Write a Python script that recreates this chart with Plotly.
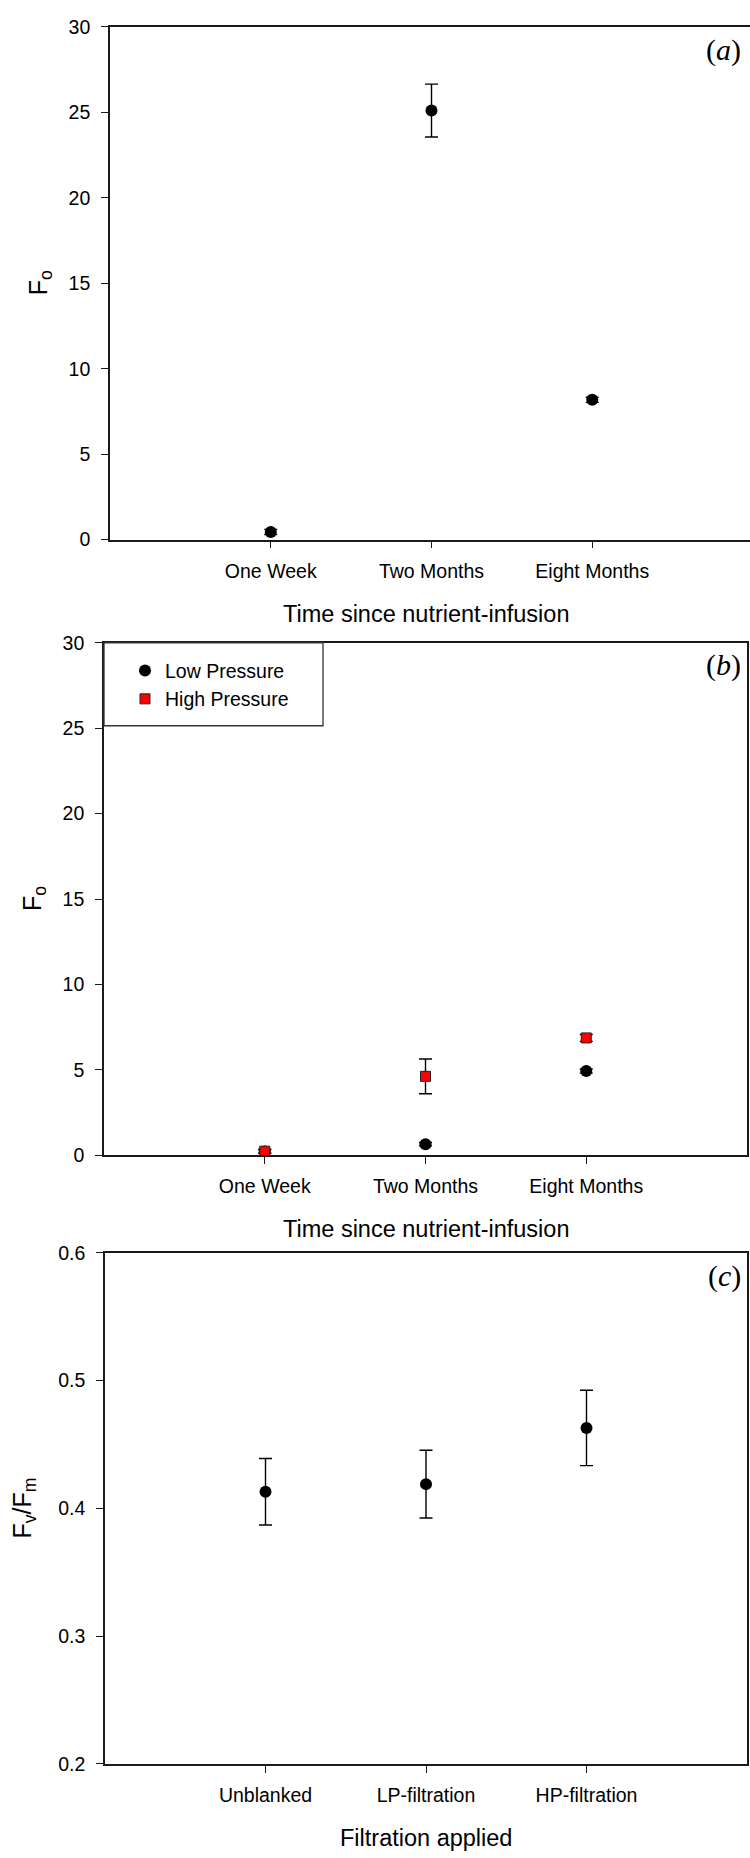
import plotly.graph_objects as go

# ---- data ----
time_labels = ["One Week", "Two Months", "Eight Months"]
filt_labels = ["Unblanked", "LP-filtration", "HP-filtration"]

fo_all = [0.45, 25.1, 8.18]
fo_all_err = [0.15, 1.55, 0.15]

fo_low = [0.22, 0.65, 4.93]
fo_low_err = [0.1, 0.1, 0.12]
fo_high = [0.24, 4.62, 6.87]
fo_high_err = [0.12, 1.02, 0.2]

fvfm = [0.413, 0.419, 0.463]
fvfm_err = [0.026, 0.0265, 0.0295]

W, H = 750, 1858
SANS = "Liberation Sans"
SERIF = "Liberation Serif"
LINE = "#1a1a1a"


def px_x(p):
    return p / W


def px_y(p):
    return 1 - p / H


def xpos(labels):
    return list(range(1, len(labels) + 1))


def err(vals):
    return dict(type="data", array=vals, visible=True, color="black",
                thickness=1.4, width=6.5)


circle = dict(symbol="circle", size=12, color="black",
              line=dict(color="black", width=0))
square = dict(symbol="square", size=10, color="#ff0000",
              line=dict(color="#222222", width=1))

fig = go.Figure()

# (a) overall Fo
fig.add_trace(go.Scatter(x=xpos(time_labels), y=fo_all, mode="markers",
                         marker=circle, error_y=err(fo_all_err),
                         xaxis="x", yaxis="y", showlegend=False))

# (b) Fo by filtration pressure
fig.add_trace(go.Scatter(x=xpos(time_labels), y=fo_low, mode="markers",
                         marker=circle, error_y=err(fo_low_err),
                         name="Low Pressure", xaxis="x2", yaxis="y2"))
fig.add_trace(go.Scatter(x=xpos(time_labels), y=fo_high, mode="markers",
                         marker=square, error_y=err(fo_high_err),
                         name="High Pressure", xaxis="x2", yaxis="y2"))

# (c) Fv/Fm by filtration
fig.add_trace(go.Scatter(x=xpos(filt_labels), y=fvfm, mode="markers",
                         marker=circle, error_y=err(fvfm_err),
                         xaxis="x3", yaxis="y3", showlegend=False))

tickfont = dict(family=SANS, size=19.5, color="black")


def xax(domain, rng, labels, anchor, mirror=True):
    return dict(domain=domain, range=rng, anchor=anchor,
                tickmode="array", tickvals=xpos(labels), ticktext=labels,
                ticks="outside", ticklen=7, tickwidth=1.3, tickcolor=LINE,
                showline=True, linecolor=LINE, linewidth=1.6, mirror=mirror,
                showgrid=False, zeroline=False, tickfont=tickfont,
                ticklabelstandoff=6, fixedrange=True)


def yax(domain, rng, dtick, anchor, mirror=True):
    return dict(domain=domain, range=rng, anchor=anchor, dtick=dtick,
                tick0=rng[0],
                ticks="outside", ticklen=7, tickwidth=1.3, tickcolor=LINE,
                showline=True, linecolor=LINE, linewidth=1.6, mirror=mirror,
                showgrid=False, zeroline=False, tickfont=tickfont,
                ticklabelstandoff=7, fixedrange=True)


# panel frames in pixels: left, right, top, bottom
A = (110, 750, 16, 535)
B = (104, 747, 639.3, 1158)
C = (105, 747, 1256.7, 1774)

a_right = (A[1] - A[0]) / ((747 - 104) / 4)

layout = dict(
    width=W, height=H,
    margin=dict(l=0, r=0, t=0, b=0),
    paper_bgcolor="white", plot_bgcolor="white",
    font=dict(family=SANS, color="black"),
    xaxis=xax([px_x(A[0]), px_x(A[1])], [0, a_right], time_labels, "y"),
    yaxis=yax([px_y(A[3]), px_y(A[2])], [0, 30], 5, "x", mirror=False),
    xaxis2=xax([px_x(B[0]), px_x(B[1])], [0, 4], time_labels, "y2"),
    yaxis2=yax([px_y(B[3]), px_y(B[2])], [0, 30], 5, "x2"),
    xaxis3=xax([px_x(C[0]), px_x(C[1])], [0, 4], filt_labels, "y3"),
    yaxis3=yax([px_y(C[3]), px_y(C[2])], [0.2, 0.6], 0.1, "x3"),
    legend=dict(x=px_x(125), y=px_y(648), xanchor="left", yanchor="top",
                bgcolor="rgba(0,0,0,0)", borderwidth=0,
                font=dict(family=SANS, size=19.5, color="black"),
                itemwidth=30, tracegroupgap=0),
    showlegend=True,
)
fig.update_layout(**layout)

# legend frame
fig.add_shape(type="rect", xref="paper", yref="paper",
              x0=px_x(B[0]), x1=px_x(323), y0=px_y(723.3), y1=px_y(B[2]),
              line=dict(color="#333333", width=1.3), fillcolor="rgba(0,0,0,0)")

annots = []
# panel letters
for letter, (l, r, t, b) in zip("abc", (A, B, C)):
    annots.append(dict(text="(<i>%s</i>)" % letter, xref="paper", yref="paper",
                       x=px_x(743), y=px_y(t + 23), xanchor="right",
                       yanchor="middle", showarrow=False,
                       font=dict(family=SERIF, size=30, color="black")))

# x-axis titles
for title, (l, r, t, b) in zip(["Time since nutrient-infusion",
                                "Time since nutrient-infusion",
                                "Filtration applied"], (A, B, C)):
    cx = (B[0] + B[1]) / 2
    annots.append(dict(text=title, xref="paper", yref="paper",
                       x=px_x(cx), y=px_y(b + 75), xanchor="center",
                       yanchor="middle", showarrow=False,
                       font=dict(family=SANS, size=23.5, color="black")))

# y-axis titles
for title, xc, (l, r, t, b) in zip(["F<sub>o</sub>", "F<sub>o</sub>",
                                    "F<sub>v</sub>/F<sub>m</sub>"],
                                   (40, 34, 24), (A, B, C)):
    annots.append(dict(text=title, xref="paper", yref="paper",
                       x=px_x(xc), y=px_y((t + b) / 2), xanchor="center",
                       yanchor="middle", showarrow=False, textangle=-90,
                       font=dict(family=SANS, size=25, color="black")))

fig.update_layout(annotations=annots)

fig.write_html("out.html", post_script="document.body.style.margin='0';")
